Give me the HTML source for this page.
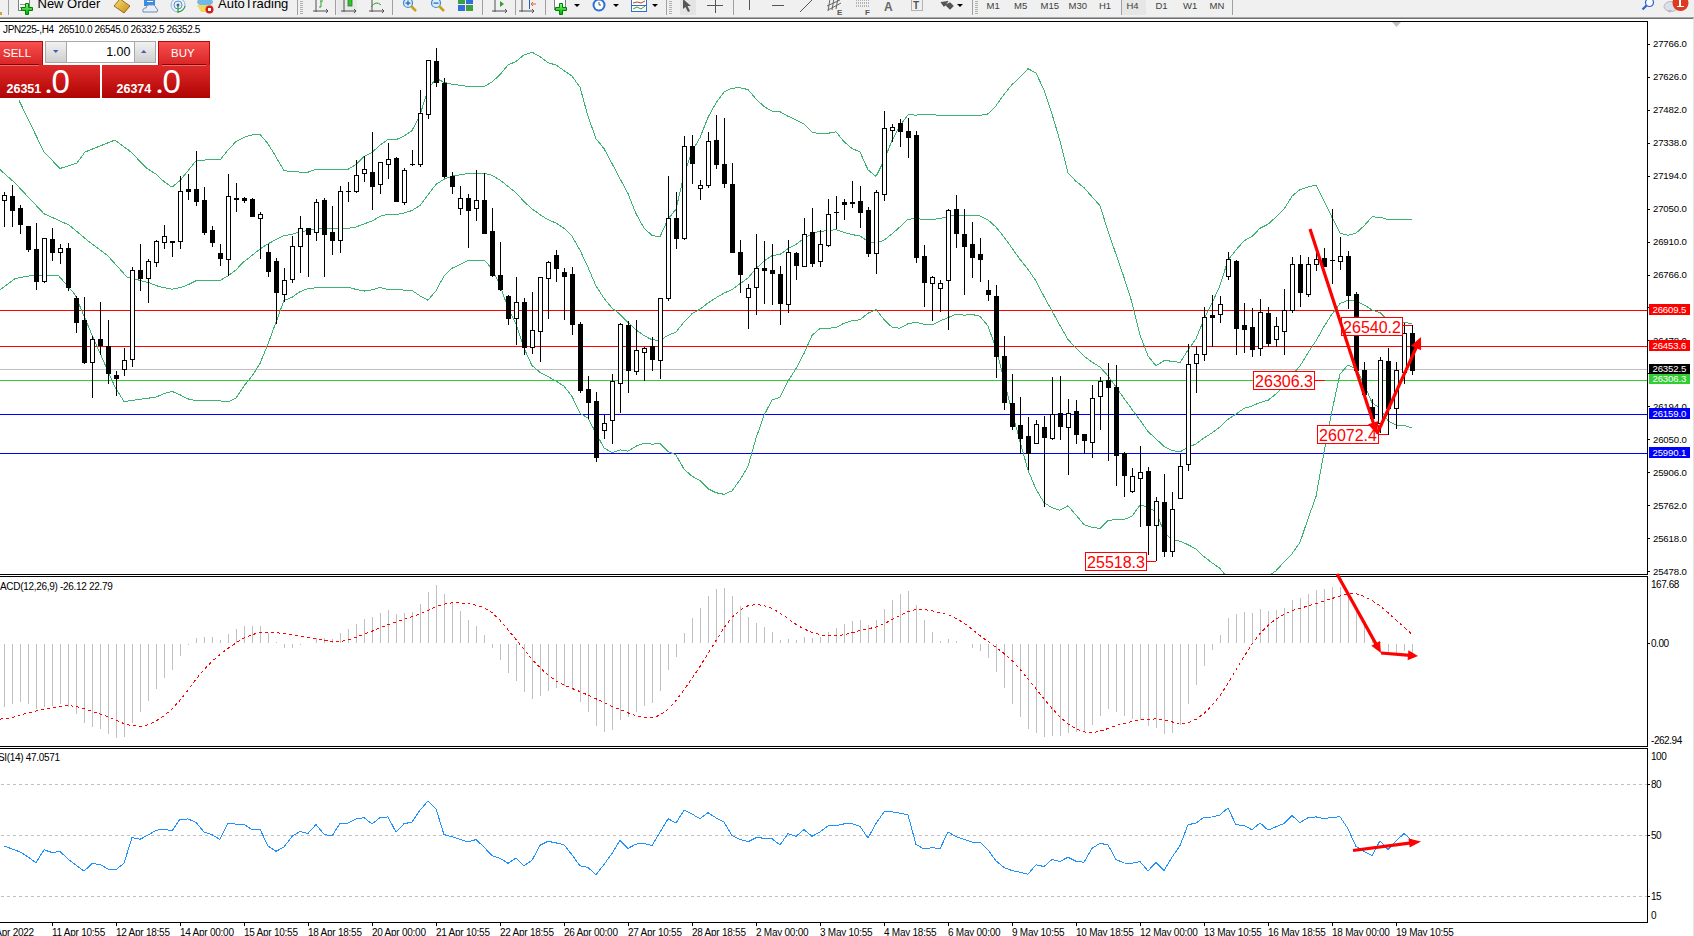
<!DOCTYPE html>
<html><head><meta charset="utf-8"><style>
html,body{margin:0;padding:0;width:1694px;height:936px;overflow:hidden;background:#fff;}
body{position:relative;font-family:"Liberation Sans",sans-serif;}
svg{position:absolute;left:0;top:0;}
svg text{font-family:"Liberation Sans",sans-serif;}
#tb{position:absolute;left:0;top:0;width:1694px;height:17px;background:#f0f0f0;overflow:hidden;}
#tb .t{position:absolute;font-size:12px;color:#000;top:-4px;white-space:nowrap;}
.panel{position:absolute;}
</style></head><body>
<svg width="1694" height="936" viewBox="0 0 1694 936">
<g shape-rendering="crispEdges">
<rect x="0" y="310" width="1647" height="1" fill="#ff0000" />
<rect x="0" y="346" width="1647" height="1" fill="#ff0000" />
<rect x="0" y="369" width="1647" height="1" fill="#c0c0c0" />
<rect x="0" y="380" width="1647" height="1" fill="#32cd32" />
<rect x="0" y="414" width="1647" height="1" fill="#0000ff" />
<rect x="0" y="453" width="1647" height="1" fill="#0000ff" />
<line x1="0" y1="784.5" x2="1647" y2="784.5" stroke="#c0c0c0" stroke-width="1" stroke-dasharray="3,3" stroke-dashoffset="5"/>
<line x1="0" y1="835.5" x2="1647" y2="835.5" stroke="#c0c0c0" stroke-width="1" stroke-dasharray="3,3" stroke-dashoffset="5"/>
<line x1="0" y1="896.5" x2="1647" y2="896.5" stroke="#c0c0c0" stroke-width="1" stroke-dasharray="3,3" stroke-dashoffset="5"/>
<rect x="0" y="21" width="1648" height="1" fill="#000" />
<rect x="1647" y="21" width="1" height="554" fill="#000" />
<rect x="0" y="574" width="1648" height="1" fill="#000" />
<rect x="0" y="576" width="1648" height="1" fill="#000" />
<rect x="1647" y="576" width="1" height="171" fill="#000" />
<rect x="0" y="746" width="1648" height="1" fill="#000" />
<rect x="0" y="748" width="1648" height="1" fill="#000" />
<rect x="1647" y="748" width="1" height="175" fill="#000" />
<rect x="0" y="922" width="1648" height="1" fill="#000" />
<rect x="1693" y="18" width="1" height="918" fill="#e4e4e4" />
<rect x="1648" y="44" width="2" height="1" fill="#000" />
<rect x="1648" y="77" width="2" height="1" fill="#000" />
<rect x="1648" y="110" width="2" height="1" fill="#000" />
<rect x="1648" y="143" width="2" height="1" fill="#000" />
<rect x="1648" y="176" width="2" height="1" fill="#000" />
<rect x="1648" y="209" width="2" height="1" fill="#000" />
<rect x="1648" y="242" width="2" height="1" fill="#000" />
<rect x="1648" y="275" width="2" height="1" fill="#000" />
<rect x="1648" y="307" width="2" height="1" fill="#000" />
<rect x="1648" y="340" width="2" height="1" fill="#000" />
<rect x="1648" y="373" width="2" height="1" fill="#000" />
<rect x="1648" y="406" width="2" height="1" fill="#000" />
<rect x="1648" y="439" width="2" height="1" fill="#000" />
<rect x="1648" y="472" width="2" height="1" fill="#000" />
<rect x="1648" y="505" width="2" height="1" fill="#000" />
<rect x="1648" y="538" width="2" height="1" fill="#000" />
<rect x="1648" y="571" width="2" height="1" fill="#000" />
<rect x="1648" y="643" width="2" height="1" fill="#000" />
<rect x="1648" y="784" width="2" height="1" fill="#000" />
<rect x="1648" y="835" width="2" height="1" fill="#000" />
<rect x="1648" y="896" width="2" height="1" fill="#000" />
<rect x="52" y="923" width="1" height="3" fill="#000" />
<rect x="116" y="923" width="1" height="3" fill="#000" />
<rect x="180" y="923" width="1" height="3" fill="#000" />
<rect x="244" y="923" width="1" height="3" fill="#000" />
<rect x="308" y="923" width="1" height="3" fill="#000" />
<rect x="372" y="923" width="1" height="3" fill="#000" />
<rect x="436" y="923" width="1" height="3" fill="#000" />
<rect x="500" y="923" width="1" height="3" fill="#000" />
<rect x="564" y="923" width="1" height="3" fill="#000" />
<rect x="628" y="923" width="1" height="3" fill="#000" />
<rect x="692" y="923" width="1" height="3" fill="#000" />
<rect x="756" y="923" width="1" height="3" fill="#000" />
<rect x="820" y="923" width="1" height="3" fill="#000" />
<rect x="884" y="923" width="1" height="3" fill="#000" />
<rect x="948" y="923" width="1" height="3" fill="#000" />
<rect x="1012" y="923" width="1" height="3" fill="#000" />
<rect x="1076" y="923" width="1" height="3" fill="#000" />
<rect x="1140" y="923" width="1" height="3" fill="#000" />
<rect x="1204" y="923" width="1" height="3" fill="#000" />
<rect x="1268" y="923" width="1" height="3" fill="#000" />
<rect x="1332" y="923" width="1" height="3" fill="#000" />
<rect x="1396" y="923" width="1" height="3" fill="#000" />
</g>
<g shape-rendering="crispEdges">
<rect x="4" y="644" width="1" height="63" fill="#c0c0c0" />
<rect x="12" y="644" width="1" height="60" fill="#c0c0c0" />
<rect x="20" y="644" width="1" height="58" fill="#c0c0c0" />
<rect x="28" y="644" width="1" height="60" fill="#c0c0c0" />
<rect x="36" y="644" width="1" height="65" fill="#c0c0c0" />
<rect x="44" y="644" width="1" height="63" fill="#c0c0c0" />
<rect x="52" y="644" width="1" height="62" fill="#c0c0c0" />
<rect x="60" y="644" width="1" height="60" fill="#c0c0c0" />
<rect x="68" y="644" width="1" height="63" fill="#c0c0c0" />
<rect x="76" y="644" width="1" height="70" fill="#c0c0c0" />
<rect x="84" y="644" width="1" height="79" fill="#c0c0c0" />
<rect x="92" y="644" width="1" height="83" fill="#c0c0c0" />
<rect x="100" y="644" width="1" height="85" fill="#c0c0c0" />
<rect x="108" y="644" width="1" height="90" fill="#c0c0c0" />
<rect x="116" y="644" width="1" height="94" fill="#c0c0c0" />
<rect x="124" y="644" width="1" height="93" fill="#c0c0c0" />
<rect x="132" y="644" width="1" height="79" fill="#c0c0c0" />
<rect x="140" y="644" width="1" height="68" fill="#c0c0c0" />
<rect x="148" y="644" width="1" height="57" fill="#c0c0c0" />
<rect x="156" y="644" width="1" height="45" fill="#c0c0c0" />
<rect x="164" y="644" width="1" height="34" fill="#c0c0c0" />
<rect x="172" y="644" width="1" height="26" fill="#c0c0c0" />
<rect x="180" y="644" width="1" height="12" fill="#c0c0c0" />
<rect x="188" y="644" width="1" height="1" fill="#c0c0c0" />
<rect x="196" y="638" width="1" height="5" fill="#c0c0c0" />
<rect x="204" y="637" width="1" height="6" fill="#c0c0c0" />
<rect x="212" y="637" width="1" height="6" fill="#c0c0c0" />
<rect x="220" y="640" width="1" height="3" fill="#c0c0c0" />
<rect x="228" y="634" width="1" height="9" fill="#c0c0c0" />
<rect x="236" y="629" width="1" height="14" fill="#c0c0c0" />
<rect x="244" y="626" width="1" height="17" fill="#c0c0c0" />
<rect x="252" y="626" width="1" height="17" fill="#c0c0c0" />
<rect x="260" y="626" width="1" height="17" fill="#c0c0c0" />
<rect x="268" y="633" width="1" height="10" fill="#c0c0c0" />
<rect x="276" y="642" width="1" height="1" fill="#c0c0c0" />
<rect x="284" y="644" width="1" height="4" fill="#c0c0c0" />
<rect x="292" y="644" width="1" height="4" fill="#c0c0c0" />
<rect x="300" y="644" width="1" height="1" fill="#c0c0c0" />
<rect x="316" y="638" width="1" height="5" fill="#c0c0c0" />
<rect x="324" y="638" width="1" height="5" fill="#c0c0c0" />
<rect x="332" y="639" width="1" height="4" fill="#c0c0c0" />
<rect x="340" y="633" width="1" height="10" fill="#c0c0c0" />
<rect x="348" y="629" width="1" height="14" fill="#c0c0c0" />
<rect x="356" y="624" width="1" height="19" fill="#c0c0c0" />
<rect x="364" y="619" width="1" height="24" fill="#c0c0c0" />
<rect x="372" y="617" width="1" height="26" fill="#c0c0c0" />
<rect x="380" y="613" width="1" height="30" fill="#c0c0c0" />
<rect x="388" y="610" width="1" height="33" fill="#c0c0c0" />
<rect x="396" y="614" width="1" height="29" fill="#c0c0c0" />
<rect x="404" y="613" width="1" height="30" fill="#c0c0c0" />
<rect x="412" y="612" width="1" height="31" fill="#c0c0c0" />
<rect x="420" y="604" width="1" height="39" fill="#c0c0c0" />
<rect x="428" y="592" width="1" height="51" fill="#c0c0c0" />
<rect x="436" y="585" width="1" height="58" fill="#c0c0c0" />
<rect x="444" y="594" width="1" height="49" fill="#c0c0c0" />
<rect x="452" y="602" width="1" height="41" fill="#c0c0c0" />
<rect x="460" y="611" width="1" height="32" fill="#c0c0c0" />
<rect x="468" y="620" width="1" height="23" fill="#c0c0c0" />
<rect x="476" y="626" width="1" height="17" fill="#c0c0c0" />
<rect x="484" y="635" width="1" height="8" fill="#c0c0c0" />
<rect x="492" y="644" width="1" height="4" fill="#c0c0c0" />
<rect x="500" y="644" width="1" height="16" fill="#c0c0c0" />
<rect x="508" y="644" width="1" height="29" fill="#c0c0c0" />
<rect x="516" y="644" width="1" height="37" fill="#c0c0c0" />
<rect x="524" y="644" width="1" height="48" fill="#c0c0c0" />
<rect x="532" y="644" width="1" height="55" fill="#c0c0c0" />
<rect x="540" y="644" width="1" height="52" fill="#c0c0c0" />
<rect x="548" y="644" width="1" height="47" fill="#c0c0c0" />
<rect x="556" y="644" width="1" height="44" fill="#c0c0c0" />
<rect x="564" y="644" width="1" height="42" fill="#c0c0c0" />
<rect x="572" y="644" width="1" height="46" fill="#c0c0c0" />
<rect x="580" y="644" width="1" height="58" fill="#c0c0c0" />
<rect x="588" y="644" width="1" height="68" fill="#c0c0c0" />
<rect x="596" y="644" width="1" height="82" fill="#c0c0c0" />
<rect x="604" y="644" width="1" height="88" fill="#c0c0c0" />
<rect x="612" y="644" width="1" height="86" fill="#c0c0c0" />
<rect x="620" y="644" width="1" height="76" fill="#c0c0c0" />
<rect x="628" y="644" width="1" height="73" fill="#c0c0c0" />
<rect x="636" y="644" width="1" height="68" fill="#c0c0c0" />
<rect x="644" y="644" width="1" height="62" fill="#c0c0c0" />
<rect x="652" y="644" width="1" height="59" fill="#c0c0c0" />
<rect x="660" y="644" width="1" height="47" fill="#c0c0c0" />
<rect x="668" y="644" width="1" height="26" fill="#c0c0c0" />
<rect x="676" y="644" width="1" height="13" fill="#c0c0c0" />
<rect x="684" y="633" width="1" height="10" fill="#c0c0c0" />
<rect x="692" y="618" width="1" height="25" fill="#c0c0c0" />
<rect x="700" y="608" width="1" height="35" fill="#c0c0c0" />
<rect x="708" y="596" width="1" height="47" fill="#c0c0c0" />
<rect x="716" y="589" width="1" height="54" fill="#c0c0c0" />
<rect x="724" y="588" width="1" height="55" fill="#c0c0c0" />
<rect x="732" y="596" width="1" height="47" fill="#c0c0c0" />
<rect x="740" y="606" width="1" height="37" fill="#c0c0c0" />
<rect x="748" y="617" width="1" height="26" fill="#c0c0c0" />
<rect x="756" y="623" width="1" height="20" fill="#c0c0c0" />
<rect x="764" y="627" width="1" height="16" fill="#c0c0c0" />
<rect x="772" y="632" width="1" height="11" fill="#c0c0c0" />
<rect x="780" y="640" width="1" height="3" fill="#c0c0c0" />
<rect x="788" y="639" width="1" height="4" fill="#c0c0c0" />
<rect x="796" y="640" width="1" height="3" fill="#c0c0c0" />
<rect x="804" y="637" width="1" height="6" fill="#c0c0c0" />
<rect x="812" y="638" width="1" height="5" fill="#c0c0c0" />
<rect x="820" y="637" width="1" height="6" fill="#c0c0c0" />
<rect x="828" y="632" width="1" height="11" fill="#c0c0c0" />
<rect x="836" y="628" width="1" height="15" fill="#c0c0c0" />
<rect x="844" y="624" width="1" height="19" fill="#c0c0c0" />
<rect x="852" y="621" width="1" height="22" fill="#c0c0c0" />
<rect x="860" y="620" width="1" height="23" fill="#c0c0c0" />
<rect x="868" y="625" width="1" height="18" fill="#c0c0c0" />
<rect x="876" y="620" width="1" height="23" fill="#c0c0c0" />
<rect x="884" y="609" width="1" height="34" fill="#c0c0c0" />
<rect x="892" y="600" width="1" height="43" fill="#c0c0c0" />
<rect x="900" y="594" width="1" height="49" fill="#c0c0c0" />
<rect x="908" y="591" width="1" height="52" fill="#c0c0c0" />
<rect x="916" y="605" width="1" height="38" fill="#c0c0c0" />
<rect x="924" y="620" width="1" height="23" fill="#c0c0c0" />
<rect x="932" y="632" width="1" height="11" fill="#c0c0c0" />
<rect x="940" y="641" width="1" height="2" fill="#c0c0c0" />
<rect x="948" y="639" width="1" height="4" fill="#c0c0c0" />
<rect x="956" y="641" width="1" height="2" fill="#c0c0c0" />
<rect x="972" y="644" width="1" height="4" fill="#c0c0c0" />
<rect x="980" y="644" width="1" height="7" fill="#c0c0c0" />
<rect x="988" y="644" width="1" height="14" fill="#c0c0c0" />
<rect x="996" y="644" width="1" height="28" fill="#c0c0c0" />
<rect x="1004" y="644" width="1" height="44" fill="#c0c0c0" />
<rect x="1012" y="644" width="1" height="60" fill="#c0c0c0" />
<rect x="1020" y="644" width="1" height="73" fill="#c0c0c0" />
<rect x="1028" y="644" width="1" height="85" fill="#c0c0c0" />
<rect x="1036" y="644" width="1" height="89" fill="#c0c0c0" />
<rect x="1044" y="644" width="1" height="93" fill="#c0c0c0" />
<rect x="1052" y="644" width="1" height="92" fill="#c0c0c0" />
<rect x="1060" y="644" width="1" height="92" fill="#c0c0c0" />
<rect x="1068" y="644" width="1" height="89" fill="#c0c0c0" />
<rect x="1076" y="644" width="1" height="88" fill="#c0c0c0" />
<rect x="1084" y="644" width="1" height="88" fill="#c0c0c0" />
<rect x="1092" y="644" width="1" height="81" fill="#c0c0c0" />
<rect x="1100" y="644" width="1" height="72" fill="#c0c0c0" />
<rect x="1108" y="644" width="1" height="65" fill="#c0c0c0" />
<rect x="1116" y="644" width="1" height="68" fill="#c0c0c0" />
<rect x="1124" y="644" width="1" height="72" fill="#c0c0c0" />
<rect x="1132" y="644" width="1" height="75" fill="#c0c0c0" />
<rect x="1140" y="644" width="1" height="76" fill="#c0c0c0" />
<rect x="1148" y="644" width="1" height="82" fill="#c0c0c0" />
<rect x="1156" y="644" width="1" height="84" fill="#c0c0c0" />
<rect x="1164" y="644" width="1" height="90" fill="#c0c0c0" />
<rect x="1172" y="644" width="1" height="89" fill="#c0c0c0" />
<rect x="1180" y="644" width="1" height="81" fill="#c0c0c0" />
<rect x="1188" y="644" width="1" height="60" fill="#c0c0c0" />
<rect x="1196" y="644" width="1" height="41" fill="#c0c0c0" />
<rect x="1204" y="644" width="1" height="22" fill="#c0c0c0" />
<rect x="1212" y="644" width="1" height="6" fill="#c0c0c0" />
<rect x="1220" y="635" width="1" height="8" fill="#c0c0c0" />
<rect x="1228" y="618" width="1" height="25" fill="#c0c0c0" />
<rect x="1236" y="614" width="1" height="29" fill="#c0c0c0" />
<rect x="1244" y="612" width="1" height="31" fill="#c0c0c0" />
<rect x="1252" y="613" width="1" height="30" fill="#c0c0c0" />
<rect x="1260" y="609" width="1" height="34" fill="#c0c0c0" />
<rect x="1268" y="611" width="1" height="32" fill="#c0c0c0" />
<rect x="1276" y="610" width="1" height="33" fill="#c0c0c0" />
<rect x="1284" y="608" width="1" height="35" fill="#c0c0c0" />
<rect x="1292" y="600" width="1" height="43" fill="#c0c0c0" />
<rect x="1300" y="598" width="1" height="45" fill="#c0c0c0" />
<rect x="1308" y="594" width="1" height="49" fill="#c0c0c0" />
<rect x="1316" y="590" width="1" height="53" fill="#c0c0c0" />
<rect x="1324" y="589" width="1" height="54" fill="#c0c0c0" />
<rect x="1332" y="587" width="1" height="56" fill="#c0c0c0" />
<rect x="1340" y="587" width="1" height="56" fill="#c0c0c0" />
<rect x="1348" y="592" width="1" height="51" fill="#c0c0c0" />
<rect x="1356" y="607" width="1" height="36" fill="#c0c0c0" />
<rect x="1364" y="622" width="1" height="21" fill="#c0c0c0" />
<rect x="1372" y="637" width="1" height="6" fill="#c0c0c0" />
<rect x="1380" y="642" width="1" height="1" fill="#c0c0c0" />
<rect x="1388" y="644" width="1" height="8" fill="#c0c0c0" />
<rect x="1396" y="644" width="1" height="10" fill="#c0c0c0" />
<rect x="1404" y="644" width="1" height="7" fill="#c0c0c0" />
<rect x="1412" y="644" width="1" height="9" fill="#c0c0c0" />
</g>
<polyline fill="none" stroke="#ff0000" stroke-width="1" stroke-dasharray="3,3" shape-rendering="crispEdges" points="0.0,719.2 11.8,717.6 23.6,714.0 35.4,711.2 47.2,708.8 59.0,707.0 68.0,705.6 76.0,706.4 84.0,708.6 92.0,711.3 100.0,714.1 108.0,716.8 116.0,720.2 124.0,723.6 132.0,725.7 140.0,726.3 148.0,724.9 156.0,721.1 164.0,715.6 172.0,709.0 180.0,700.3 188.0,690.1 196.0,679.1 204.0,669.6 212.0,661.3 220.0,654.5 228.0,648.4 236.0,643.0 244.0,638.1 252.0,634.7 260.0,632.5 268.0,632.0 276.0,632.6 284.0,633.7 292.0,634.6 300.0,635.8 308.0,637.4 316.0,638.7 324.0,640.1 332.0,641.6 340.0,641.6 348.0,640.1 356.0,637.4 364.0,634.2 372.0,631.2 380.0,627.8 388.0,624.8 396.0,622.1 404.0,619.2 412.0,616.8 420.0,614.0 428.0,610.5 436.0,606.8 444.0,604.2 452.0,602.9 460.0,603.0 468.0,603.7 476.0,605.1 484.0,607.6 492.0,612.5 500.0,620.1 508.0,629.8 516.0,639.5 524.0,649.5 532.0,659.3 540.0,667.7 548.0,675.0 556.0,680.9 564.0,685.1 572.0,688.4 580.0,691.6 588.0,695.1 596.0,698.8 604.0,702.5 612.0,706.3 620.0,709.5 628.0,712.8 636.0,715.7 644.0,717.5 652.0,717.6 660.0,715.3 668.0,709.0 676.0,700.7 684.0,689.9 692.0,678.5 700.0,666.4 708.0,653.5 716.0,640.5 724.0,627.8 732.0,617.3 740.0,610.1 748.0,605.7 756.0,604.5 764.0,605.6 772.0,608.2 780.0,613.1 788.0,618.6 796.0,624.4 804.0,628.9 812.0,632.4 820.0,634.7 828.0,635.7 836.0,635.7 844.0,634.8 852.0,632.7 860.0,630.5 868.0,628.8 876.0,627.0 884.0,623.8 892.0,619.7 900.0,615.5 908.0,611.5 916.0,609.4 924.0,609.4 932.0,610.8 940.0,612.6 948.0,614.7 956.0,618.3 964.0,623.1 972.0,629.1 980.0,635.7 988.0,641.5 996.0,647.2 1004.0,653.5 1012.0,660.5 1020.0,669.2 1028.0,679.0 1036.0,688.9 1044.0,698.9 1052.0,708.4 1060.0,717.1 1068.0,723.9 1076.0,728.8 1084.0,731.9 1092.0,732.7 1100.0,731.2 1108.0,728.5 1116.0,725.7 1124.0,723.4 1132.0,721.5 1140.0,720.0 1148.0,719.4 1156.0,718.9 1164.0,720.0 1172.0,721.9 1180.0,723.6 1188.0,722.7 1196.0,719.3 1204.0,713.4 1212.0,705.6 1220.0,695.5 1228.0,683.3 1236.0,670.0 1244.0,656.5 1252.0,644.1 1260.0,633.6 1268.0,625.3 1276.0,619.1 1284.0,614.4 1292.0,610.5 1300.0,608.3 1308.0,606.0 1316.0,603.6 1324.0,600.9 1332.0,598.5 1340.0,595.9 1348.0,593.9 1356.0,593.7 1364.0,596.2 1372.0,600.5 1380.0,605.8 1388.0,612.7 1396.0,619.9 1404.0,627.0 1412.0,634.4"/>
<polyline fill="none" stroke="#1e90ff" stroke-width="1" shape-rendering="crispEdges" points="4.0,845.9 12.0,849.0 20.0,851.9 28.0,856.9 36.0,862.7 44.0,849.8 52.0,852.5 60.0,851.4 68.0,859.1 76.0,865.1 84.0,871.2 92.0,863.5 100.0,864.5 108.0,869.0 116.0,869.7 124.0,863.2 132.0,837.5 140.0,839.3 148.0,835.1 156.0,830.4 164.0,829.1 172.0,831.0 180.0,819.2 188.0,819.0 196.0,822.3 204.0,832.0 212.0,834.8 220.0,839.4 228.0,823.2 236.0,824.1 244.0,824.3 252.0,829.6 260.0,829.2 268.0,846.1 276.0,851.3 284.0,847.0 292.0,836.4 300.0,831.4 308.0,833.4 316.0,824.5 324.0,834.3 332.0,836.0 340.0,823.2 348.0,823.2 356.0,819.1 364.0,817.6 372.0,823.9 380.0,817.7 388.0,816.9 396.0,832.2 404.0,823.7 412.0,822.1 420.0,810.2 428.0,800.9 436.0,808.7 444.0,834.6 452.0,836.8 460.0,839.4 468.0,842.1 476.0,839.5 484.0,847.1 492.0,855.6 500.0,858.2 508.0,863.3 516.0,858.0 524.0,865.7 532.0,860.3 540.0,845.3 548.0,841.3 556.0,842.9 564.0,844.7 572.0,854.9 580.0,865.8 588.0,867.5 596.0,874.7 604.0,864.5 612.0,853.4 620.0,840.4 628.0,848.4 636.0,844.1 644.0,843.5 652.0,845.6 660.0,832.3 668.0,818.7 676.0,823.0 684.0,810.2 692.0,814.0 700.0,818.8 708.0,812.7 716.0,817.8 724.0,822.1 732.0,835.5 740.0,839.3 748.0,841.7 756.0,837.8 764.0,838.1 772.0,838.7 780.0,845.0 788.0,833.6 796.0,836.3 804.0,829.6 812.0,836.3 820.0,832.0 828.0,825.9 836.0,825.6 844.0,823.9 852.0,823.7 860.0,826.3 868.0,838.1 876.0,823.4 884.0,812.0 892.0,811.8 900.0,813.1 908.0,814.9 916.0,844.5 924.0,849.0 932.0,847.6 940.0,848.8 948.0,831.9 956.0,836.8 964.0,839.4 972.0,842.0 980.0,842.3 988.0,849.9 996.0,860.8 1004.0,867.5 1012.0,870.6 1020.0,872.2 1028.0,874.2 1036.0,864.7 1044.0,866.6 1052.0,859.5 1060.0,861.5 1068.0,857.2 1076.0,861.2 1084.0,862.3 1092.0,848.3 1100.0,843.4 1108.0,844.8 1116.0,859.5 1124.0,863.0 1132.0,863.2 1140.0,861.6 1148.0,870.9 1156.0,862.3 1164.0,870.4 1172.0,857.2 1180.0,845.6 1188.0,824.7 1196.0,823.1 1204.0,817.1 1212.0,817.0 1220.0,814.9 1228.0,807.9 1236.0,824.9 1244.0,825.2 1252.0,829.9 1260.0,822.9 1268.0,830.1 1276.0,826.8 1284.0,823.5 1292.0,815.5 1300.0,822.7 1308.0,817.6 1316.0,816.9 1324.0,818.6 1332.0,817.5 1340.0,816.7 1348.0,828.7 1356.0,846.5 1364.0,851.3 1372.0,855.6 1380.0,840.8 1388.0,849.7 1396.0,841.1 1404.0,833.5 1412.0,840.6"/>
<defs><clipPath id="cm"><rect x="0" y="22" width="1647" height="552"/></clipPath><clipPath id="cmacd"><rect x="0" y="577" width="1647" height="169"/></clipPath><clipPath id="crsi"><rect x="0" y="749" width="1647" height="173"/></clipPath></defs>
<g clip-path="url(#cm)">
<polyline fill="none" stroke="#3cb371" stroke-width="1" shape-rendering="crispEdges" points="19.0,100.4 44.0,152.0 60.0,168.5 77.0,163.0 85.0,152.0 115.0,140.0 131.0,152.0 146.0,167.7 156.0,174.2 164.0,181.6 172.0,187.2 180.0,180.6 188.0,170.7 196.0,160.9 204.0,160.1 212.0,159.1 220.0,160.0 228.0,150.1 236.0,141.5 244.0,137.3 252.0,134.9 260.0,134.4 268.0,143.7 276.0,156.9 284.0,170.8 292.0,171.3 300.0,172.1 308.0,172.2 316.0,169.2 324.0,169.2 332.0,169.2 340.0,169.2 348.0,169.3 356.0,164.6 364.0,156.6 372.0,152.3 380.0,145.2 388.0,139.5 396.0,139.7 404.0,136.0 412.0,130.6 420.0,115.0 428.0,89.5 436.0,78.1 444.0,82.4 452.0,84.2 460.0,85.2 468.0,86.6 476.0,86.6 484.0,86.7 492.0,82.0 500.0,74.6 508.0,65.0 516.0,61.5 524.0,54.9 532.0,52.2 540.0,56.7 548.0,62.7 556.0,65.0 564.0,70.6 572.0,76.1 580.0,87.2 588.0,116.4 596.0,138.7 604.0,148.6 612.0,163.5 620.0,178.7 628.0,193.6 636.0,213.6 644.0,228.0 652.0,235.5 660.0,236.8 668.0,219.2 676.0,209.1 684.0,175.0 692.0,151.2 700.0,137.7 708.0,117.4 716.0,102.9 724.0,92.1 732.0,88.2 740.0,87.7 748.0,89.6 756.0,98.9 764.0,106.6 772.0,111.2 780.0,111.8 788.0,116.2 796.0,120.1 804.0,123.8 812.0,132.2 820.0,133.7 828.0,133.3 836.0,131.8 844.0,141.7 852.0,148.4 860.0,152.0 868.0,169.8 876.0,176.4 884.0,160.7 892.0,140.6 900.0,125.4 908.0,114.7 916.0,115.1 924.0,114.3 932.0,114.1 940.0,116.0 948.0,115.0 956.0,115.6 964.0,115.6 972.0,115.8 980.0,115.5 988.0,113.9 996.0,105.8 1004.0,94.4 1012.0,84.6 1020.0,77.3 1028.0,68.7 1036.0,72.9 1044.0,90.2 1052.0,114.0 1060.0,141.0 1068.0,172.9 1076.0,181.4 1084.0,187.6 1092.0,196.8 1100.0,205.6 1108.0,231.3 1116.0,254.3 1124.0,277.4 1132.0,302.6 1140.0,335.1 1148.0,355.9 1156.0,365.9 1164.0,360.6 1172.0,361.2 1180.0,362.5 1188.0,350.1 1196.0,338.8 1204.0,319.2 1212.0,303.3 1220.0,285.5 1228.0,260.0 1236.0,250.0 1244.0,240.8 1252.0,236.4 1260.0,228.3 1268.0,224.3 1276.0,216.9 1284.0,209.2 1292.0,196.2 1300.0,189.5 1308.0,187.1 1316.0,185.1 1324.0,201.0 1332.0,217.4 1340.0,233.2 1348.0,235.3 1356.0,233.2 1364.0,225.9 1372.0,216.9 1380.0,217.2 1388.0,219.5 1396.0,219.3 1404.0,219.4 1412.0,219.0"/>
<polyline fill="none" stroke="#3cb371" stroke-width="1" shape-rendering="crispEdges" points="0.0,169.6 15.0,183.0 44.0,213.8 69.0,225.0 88.0,240.8 108.0,256.0 127.0,277.0 150.0,283.0 156.0,285.6 164.0,287.7 172.0,289.3 180.0,287.7 188.0,284.8 196.0,280.8 204.0,280.5 212.0,280.0 220.0,280.4 228.0,275.9 236.0,269.8 244.0,261.6 252.0,255.5 260.0,249.0 268.0,243.8 276.0,239.6 284.0,235.6 292.0,234.3 300.0,231.8 308.0,230.5 316.0,228.5 324.0,228.4 332.0,228.3 340.0,228.3 348.0,228.3 356.0,227.0 364.0,223.9 372.0,221.1 380.0,216.3 388.0,214.4 396.0,214.5 404.0,213.1 412.0,210.5 420.0,205.4 428.0,194.9 436.0,184.4 444.0,179.2 452.0,176.2 460.0,174.8 468.0,173.6 476.0,173.5 484.0,173.4 492.0,175.2 500.0,180.1 508.0,186.4 516.0,192.7 524.0,201.6 532.0,208.8 540.0,214.6 548.0,219.7 556.0,223.1 564.0,228.3 572.0,236.3 580.0,250.2 588.0,267.3 596.0,286.0 604.0,298.3 612.0,308.0 620.0,314.3 628.0,322.4 636.0,329.9 644.0,335.6 652.0,339.8 660.0,340.3 668.0,335.3 676.0,332.1 684.0,322.1 692.0,313.7 700.0,309.1 708.0,303.0 716.0,297.8 724.0,293.2 732.0,289.5 740.0,283.7 748.0,278.0 756.0,268.6 764.0,261.0 772.0,255.6 780.0,254.5 788.0,248.6 796.0,244.3 804.0,238.6 812.0,233.8 820.0,231.1 828.0,230.9 836.0,229.6 844.0,232.5 852.0,234.6 860.0,235.9 868.0,241.5 876.0,242.9 884.0,240.2 892.0,233.9 900.0,226.8 908.0,219.2 916.0,218.7 924.0,219.3 932.0,219.5 940.0,218.5 948.0,216.4 956.0,214.8 964.0,215.4 972.0,215.1 980.0,215.9 988.0,219.9 996.0,227.1 1004.0,237.0 1012.0,248.1 1020.0,259.4 1028.0,269.4 1036.0,281.1 1044.0,296.5 1052.0,310.9 1060.0,325.6 1068.0,339.4 1076.0,348.2 1084.0,356.1 1092.0,362.1 1100.0,367.0 1108.0,375.9 1116.0,387.0 1124.0,398.4 1132.0,409.4 1140.0,420.1 1148.0,431.6 1156.0,438.9 1164.0,446.3 1172.0,450.5 1180.0,451.9 1188.0,447.4 1196.0,443.9 1204.0,437.9 1212.0,433.0 1220.0,426.9 1228.0,419.3 1236.0,414.0 1244.0,408.4 1252.0,406.0 1260.0,402.5 1268.0,400.3 1276.0,393.9 1284.0,385.6 1292.0,375.0 1300.0,366.0 1308.0,352.9 1316.0,340.8 1324.0,326.6 1332.0,314.1 1340.0,303.6 1348.0,300.2 1356.0,300.9 1364.0,304.8 1372.0,309.9 1380.0,312.7 1388.0,320.1 1396.0,322.2 1404.0,322.5 1412.0,323.5"/>
<polyline fill="none" stroke="#3cb371" stroke-width="1" shape-rendering="crispEdges" points="0.0,290.0 15.0,278.5 29.0,276.0 58.0,275.0 75.0,294.6 92.0,335.0 115.0,387.0 124.0,401.5 146.0,398.5 156.0,397.1 164.0,393.7 172.0,391.4 180.0,394.8 188.0,398.9 196.0,400.7 204.0,400.8 212.0,400.9 220.0,400.9 228.0,401.8 236.0,398.0 244.0,385.9 252.0,376.1 260.0,363.5 268.0,344.0 276.0,322.2 284.0,300.4 292.0,297.4 300.0,291.6 308.0,288.7 316.0,287.8 324.0,287.7 332.0,287.4 340.0,287.4 348.0,287.3 356.0,289.4 364.0,291.1 372.0,289.8 380.0,287.4 388.0,289.4 396.0,289.4 404.0,290.1 412.0,290.4 420.0,295.9 428.0,300.3 436.0,290.7 444.0,276.0 452.0,268.3 460.0,264.4 468.0,260.5 476.0,260.3 484.0,260.1 492.0,268.4 500.0,285.6 508.0,307.8 516.0,323.9 524.0,348.3 532.0,365.5 540.0,372.4 548.0,376.6 556.0,381.1 564.0,386.1 572.0,396.5 580.0,413.2 588.0,418.1 596.0,433.2 604.0,448.0 612.0,452.6 620.0,449.9 628.0,451.1 636.0,446.2 644.0,443.2 652.0,444.1 660.0,443.7 668.0,451.4 676.0,455.1 684.0,469.1 692.0,476.2 700.0,480.5 708.0,488.7 716.0,492.7 724.0,494.3 732.0,490.9 740.0,479.8 748.0,466.5 756.0,438.3 764.0,415.3 772.0,400.0 780.0,397.2 788.0,381.1 796.0,368.6 804.0,353.5 812.0,335.4 820.0,328.5 828.0,328.4 836.0,327.4 844.0,323.3 852.0,320.7 860.0,319.7 868.0,313.3 876.0,309.4 884.0,319.6 892.0,327.2 900.0,328.2 908.0,323.8 916.0,322.3 924.0,324.3 932.0,324.9 940.0,321.0 948.0,317.7 956.0,314.0 964.0,315.2 972.0,314.4 980.0,316.3 988.0,326.0 996.0,348.4 1004.0,379.6 1012.0,411.6 1020.0,441.6 1028.0,470.2 1036.0,489.2 1044.0,502.7 1052.0,507.7 1060.0,510.2 1068.0,505.8 1076.0,515.0 1084.0,524.6 1092.0,527.4 1100.0,528.4 1108.0,520.4 1116.0,519.7 1124.0,519.5 1132.0,516.2 1140.0,505.0 1148.0,507.2 1156.0,511.8 1164.0,532.0 1172.0,539.8 1180.0,541.2 1188.0,544.7 1196.0,549.0 1204.0,556.7 1212.0,562.8 1220.0,568.4 1228.0,578.5 1236.0,577.9 1244.0,576.0 1252.0,575.5 1260.0,576.7 1268.0,576.3 1276.0,570.8 1284.0,562.0 1292.0,553.8 1300.0,542.4 1308.0,518.7 1316.0,496.6 1324.0,452.1 1332.0,410.8 1340.0,374.0 1348.0,365.0 1356.0,368.7 1364.0,383.7 1372.0,402.9 1380.0,408.2 1388.0,420.8 1396.0,425.2 1404.0,425.5 1412.0,428.0"/>
<g shape-rendering="crispEdges">
<rect x="4" y="192" width="1" height="35" fill="#000" />
<rect x="2" y="195" width="5" height="6" fill="#000" />
<rect x="3" y="196" width="3" height="4" fill="#fff" />
<rect x="4" y="192" width="1" height="3" fill="#000" />
<rect x="12" y="185" width="1" height="42" fill="#000" />
<rect x="10" y="196" width="5" height="15" fill="#000" />
<rect x="20" y="205" width="1" height="29" fill="#000" />
<rect x="18" y="208" width="5" height="17" fill="#000" />
<rect x="28" y="226" width="1" height="26" fill="#000" />
<rect x="26" y="226" width="5" height="24" fill="#000" />
<rect x="36" y="223" width="1" height="67" fill="#000" />
<rect x="34" y="249" width="5" height="33" fill="#000" />
<rect x="44" y="238" width="1" height="45" fill="#000" />
<rect x="42" y="238" width="5" height="44" fill="#000" />
<rect x="43" y="239" width="3" height="42" fill="#fff" />
<rect x="44" y="238" width="1" height="0" fill="#000" />
<rect x="52" y="228" width="1" height="33" fill="#000" />
<rect x="50" y="239" width="5" height="14" fill="#000" />
<rect x="60" y="244" width="1" height="20" fill="#000" />
<rect x="58" y="248" width="5" height="5" fill="#000" />
<rect x="59" y="249" width="3" height="3" fill="#fff" />
<rect x="60" y="244" width="1" height="4" fill="#000" />
<rect x="68" y="243" width="1" height="48" fill="#000" />
<rect x="66" y="248" width="5" height="40" fill="#000" />
<rect x="76" y="296" width="1" height="37" fill="#000" />
<rect x="74" y="298" width="5" height="25" fill="#000" />
<rect x="84" y="297" width="1" height="67" fill="#000" />
<rect x="82" y="320" width="5" height="43" fill="#000" />
<rect x="92" y="336" width="1" height="62" fill="#000" />
<rect x="90" y="339" width="5" height="24" fill="#000" />
<rect x="91" y="340" width="3" height="22" fill="#fff" />
<rect x="92" y="336" width="1" height="3" fill="#000" />
<rect x="100" y="302" width="1" height="53" fill="#000" />
<rect x="98" y="339" width="5" height="7" fill="#000" />
<rect x="108" y="320" width="1" height="64" fill="#000" />
<rect x="106" y="346" width="5" height="28" fill="#000" />
<rect x="116" y="371" width="1" height="25" fill="#000" />
<rect x="114" y="375" width="5" height="4" fill="#000" />
<rect x="124" y="348" width="1" height="28" fill="#000" />
<rect x="122" y="360" width="5" height="10" fill="#000" />
<rect x="123" y="361" width="3" height="8" fill="#fff" />
<rect x="124" y="348" width="1" height="12" fill="#000" />
<rect x="132" y="267" width="1" height="100" fill="#000" />
<rect x="130" y="270" width="5" height="90" fill="#000" />
<rect x="131" y="271" width="3" height="88" fill="#fff" />
<rect x="132" y="267" width="1" height="3" fill="#000" />
<rect x="140" y="244" width="1" height="47" fill="#000" />
<rect x="138" y="270" width="5" height="9" fill="#000" />
<rect x="148" y="259" width="1" height="44" fill="#000" />
<rect x="146" y="261" width="5" height="18" fill="#000" />
<rect x="147" y="262" width="3" height="16" fill="#fff" />
<rect x="148" y="259" width="1" height="2" fill="#000" />
<rect x="156" y="240" width="1" height="27" fill="#000" />
<rect x="154" y="241" width="5" height="22" fill="#000" />
<rect x="155" y="242" width="3" height="20" fill="#fff" />
<rect x="156" y="240" width="1" height="1" fill="#000" />
<rect x="164" y="225" width="1" height="24" fill="#000" />
<rect x="162" y="236" width="5" height="7" fill="#000" />
<rect x="163" y="237" width="3" height="5" fill="#fff" />
<rect x="164" y="225" width="1" height="11" fill="#000" />
<rect x="172" y="241" width="1" height="16" fill="#000" />
<rect x="170" y="241" width="5" height="2" fill="#000" />
<rect x="180" y="176" width="1" height="73" fill="#000" />
<rect x="178" y="191" width="5" height="51" fill="#000" />
<rect x="179" y="192" width="3" height="49" fill="#fff" />
<rect x="180" y="176" width="1" height="15" fill="#000" />
<rect x="188" y="174" width="1" height="26" fill="#000" />
<rect x="186" y="189" width="5" height="3" fill="#000" />
<rect x="196" y="151" width="1" height="55" fill="#000" />
<rect x="194" y="189" width="5" height="13" fill="#000" />
<rect x="204" y="187" width="1" height="48" fill="#000" />
<rect x="202" y="200" width="5" height="33" fill="#000" />
<rect x="212" y="226" width="1" height="21" fill="#000" />
<rect x="210" y="230" width="5" height="13" fill="#000" />
<rect x="220" y="244" width="1" height="22" fill="#000" />
<rect x="218" y="253" width="5" height="6" fill="#000" />
<rect x="228" y="174" width="1" height="102" fill="#000" />
<rect x="226" y="196" width="5" height="64" fill="#000" />
<rect x="227" y="197" width="3" height="62" fill="#fff" />
<rect x="228" y="174" width="1" height="22" fill="#000" />
<rect x="236" y="183" width="1" height="29" fill="#000" />
<rect x="234" y="198" width="5" height="2" fill="#000" />
<rect x="244" y="197" width="1" height="6" fill="#000" />
<rect x="242" y="198" width="5" height="3" fill="#000" />
<rect x="252" y="198" width="1" height="19" fill="#000" />
<rect x="250" y="199" width="5" height="18" fill="#000" />
<rect x="260" y="212" width="1" height="47" fill="#000" />
<rect x="258" y="214" width="5" height="5" fill="#000" />
<rect x="259" y="215" width="3" height="3" fill="#fff" />
<rect x="260" y="212" width="1" height="2" fill="#000" />
<rect x="268" y="244" width="1" height="33" fill="#000" />
<rect x="266" y="252" width="5" height="20" fill="#000" />
<rect x="276" y="258" width="1" height="66" fill="#000" />
<rect x="274" y="261" width="5" height="32" fill="#000" />
<rect x="284" y="268" width="1" height="34" fill="#000" />
<rect x="282" y="280" width="5" height="15" fill="#000" />
<rect x="283" y="281" width="3" height="13" fill="#fff" />
<rect x="284" y="268" width="1" height="12" fill="#000" />
<rect x="292" y="236" width="1" height="47" fill="#000" />
<rect x="290" y="246" width="5" height="34" fill="#000" />
<rect x="291" y="247" width="3" height="32" fill="#fff" />
<rect x="292" y="236" width="1" height="10" fill="#000" />
<rect x="300" y="216" width="1" height="57" fill="#000" />
<rect x="298" y="228" width="5" height="19" fill="#000" />
<rect x="299" y="229" width="3" height="17" fill="#fff" />
<rect x="300" y="216" width="1" height="12" fill="#000" />
<rect x="308" y="228" width="1" height="49" fill="#000" />
<rect x="306" y="228" width="5" height="7" fill="#000" />
<rect x="316" y="199" width="1" height="42" fill="#000" />
<rect x="314" y="202" width="5" height="31" fill="#000" />
<rect x="315" y="203" width="3" height="29" fill="#fff" />
<rect x="316" y="199" width="1" height="3" fill="#000" />
<rect x="324" y="198" width="1" height="79" fill="#000" />
<rect x="322" y="200" width="5" height="35" fill="#000" />
<rect x="332" y="206" width="1" height="49" fill="#000" />
<rect x="330" y="232" width="5" height="9" fill="#000" />
<rect x="340" y="186" width="1" height="67" fill="#000" />
<rect x="338" y="191" width="5" height="50" fill="#000" />
<rect x="339" y="192" width="3" height="48" fill="#fff" />
<rect x="340" y="186" width="1" height="5" fill="#000" />
<rect x="348" y="182" width="1" height="20" fill="#000" />
<rect x="346" y="191" width="5" height="1" fill="#000" />
<rect x="356" y="160" width="1" height="33" fill="#000" />
<rect x="354" y="175" width="5" height="17" fill="#000" />
<rect x="355" y="176" width="3" height="15" fill="#fff" />
<rect x="356" y="160" width="1" height="15" fill="#000" />
<rect x="364" y="156" width="1" height="26" fill="#000" />
<rect x="362" y="169" width="5" height="5" fill="#000" />
<rect x="363" y="170" width="3" height="3" fill="#fff" />
<rect x="364" y="156" width="1" height="13" fill="#000" />
<rect x="372" y="132" width="1" height="78" fill="#000" />
<rect x="370" y="172" width="5" height="15" fill="#000" />
<rect x="380" y="162" width="1" height="32" fill="#000" />
<rect x="378" y="162" width="5" height="23" fill="#000" />
<rect x="379" y="163" width="3" height="21" fill="#fff" />
<rect x="380" y="162" width="1" height="0" fill="#000" />
<rect x="388" y="143" width="1" height="36" fill="#000" />
<rect x="386" y="159" width="5" height="6" fill="#000" />
<rect x="387" y="160" width="3" height="4" fill="#fff" />
<rect x="388" y="143" width="1" height="16" fill="#000" />
<rect x="396" y="157" width="1" height="45" fill="#000" />
<rect x="394" y="158" width="5" height="44" fill="#000" />
<rect x="404" y="168" width="1" height="37" fill="#000" />
<rect x="402" y="170" width="5" height="33" fill="#000" />
<rect x="403" y="171" width="3" height="31" fill="#fff" />
<rect x="404" y="168" width="1" height="2" fill="#000" />
<rect x="412" y="150" width="1" height="16" fill="#000" />
<rect x="410" y="164" width="5" height="1" fill="#000" />
<rect x="420" y="90" width="1" height="77" fill="#000" />
<rect x="418" y="113" width="5" height="52" fill="#000" />
<rect x="419" y="114" width="3" height="50" fill="#fff" />
<rect x="420" y="90" width="1" height="23" fill="#000" />
<rect x="428" y="60" width="1" height="59" fill="#000" />
<rect x="426" y="60" width="5" height="55" fill="#000" />
<rect x="427" y="61" width="3" height="53" fill="#fff" />
<rect x="428" y="60" width="1" height="0" fill="#000" />
<rect x="436" y="48" width="1" height="39" fill="#000" />
<rect x="434" y="61" width="5" height="22" fill="#000" />
<rect x="444" y="78" width="1" height="100" fill="#000" />
<rect x="442" y="83" width="5" height="94" fill="#000" />
<rect x="452" y="172" width="1" height="22" fill="#000" />
<rect x="450" y="176" width="5" height="11" fill="#000" />
<rect x="460" y="186" width="1" height="29" fill="#000" />
<rect x="458" y="198" width="5" height="11" fill="#000" />
<rect x="459" y="199" width="3" height="9" fill="#fff" />
<rect x="460" y="186" width="1" height="12" fill="#000" />
<rect x="468" y="194" width="1" height="54" fill="#000" />
<rect x="466" y="198" width="5" height="13" fill="#000" />
<rect x="476" y="170" width="1" height="51" fill="#000" />
<rect x="474" y="200" width="5" height="9" fill="#000" />
<rect x="475" y="201" width="3" height="7" fill="#fff" />
<rect x="476" y="170" width="1" height="30" fill="#000" />
<rect x="484" y="173" width="1" height="61" fill="#000" />
<rect x="482" y="200" width="5" height="34" fill="#000" />
<rect x="492" y="208" width="1" height="69" fill="#000" />
<rect x="490" y="231" width="5" height="45" fill="#000" />
<rect x="500" y="242" width="1" height="49" fill="#000" />
<rect x="498" y="275" width="5" height="15" fill="#000" />
<rect x="508" y="295" width="1" height="30" fill="#000" />
<rect x="506" y="296" width="5" height="23" fill="#000" />
<rect x="516" y="277" width="1" height="68" fill="#000" />
<rect x="514" y="302" width="5" height="17" fill="#000" />
<rect x="515" y="303" width="3" height="15" fill="#fff" />
<rect x="516" y="277" width="1" height="25" fill="#000" />
<rect x="524" y="298" width="1" height="57" fill="#000" />
<rect x="522" y="302" width="5" height="46" fill="#000" />
<rect x="532" y="292" width="1" height="62" fill="#000" />
<rect x="530" y="330" width="5" height="18" fill="#000" />
<rect x="531" y="331" width="3" height="16" fill="#fff" />
<rect x="532" y="292" width="1" height="38" fill="#000" />
<rect x="540" y="277" width="1" height="85" fill="#000" />
<rect x="538" y="277" width="5" height="55" fill="#000" />
<rect x="539" y="278" width="3" height="53" fill="#fff" />
<rect x="540" y="277" width="1" height="0" fill="#000" />
<rect x="548" y="261" width="1" height="58" fill="#000" />
<rect x="546" y="262" width="5" height="17" fill="#000" />
<rect x="547" y="263" width="3" height="15" fill="#fff" />
<rect x="548" y="261" width="1" height="1" fill="#000" />
<rect x="556" y="250" width="1" height="32" fill="#000" />
<rect x="554" y="255" width="5" height="14" fill="#000" />
<rect x="564" y="268" width="1" height="52" fill="#000" />
<rect x="562" y="272" width="5" height="5" fill="#000" />
<rect x="572" y="267" width="1" height="68" fill="#000" />
<rect x="570" y="274" width="5" height="51" fill="#000" />
<rect x="580" y="322" width="1" height="71" fill="#000" />
<rect x="578" y="324" width="5" height="67" fill="#000" />
<rect x="588" y="376" width="1" height="43" fill="#000" />
<rect x="586" y="389" width="5" height="14" fill="#000" />
<rect x="596" y="392" width="1" height="70" fill="#000" />
<rect x="594" y="401" width="5" height="57" fill="#000" />
<rect x="604" y="415" width="1" height="24" fill="#000" />
<rect x="602" y="423" width="5" height="8" fill="#000" />
<rect x="603" y="424" width="3" height="6" fill="#fff" />
<rect x="604" y="415" width="1" height="8" fill="#000" />
<rect x="612" y="374" width="1" height="70" fill="#000" />
<rect x="610" y="381" width="5" height="40" fill="#000" />
<rect x="611" y="382" width="3" height="38" fill="#fff" />
<rect x="612" y="374" width="1" height="7" fill="#000" />
<rect x="620" y="323" width="1" height="90" fill="#000" />
<rect x="618" y="324" width="5" height="60" fill="#000" />
<rect x="619" y="325" width="3" height="58" fill="#fff" />
<rect x="620" y="323" width="1" height="1" fill="#000" />
<rect x="628" y="321" width="1" height="72" fill="#000" />
<rect x="626" y="325" width="5" height="46" fill="#000" />
<rect x="636" y="320" width="1" height="55" fill="#000" />
<rect x="634" y="350" width="5" height="22" fill="#000" />
<rect x="635" y="351" width="3" height="20" fill="#fff" />
<rect x="636" y="320" width="1" height="30" fill="#000" />
<rect x="644" y="347" width="1" height="34" fill="#000" />
<rect x="642" y="348" width="5" height="5" fill="#000" />
<rect x="643" y="349" width="3" height="3" fill="#fff" />
<rect x="644" y="347" width="1" height="1" fill="#000" />
<rect x="652" y="337" width="1" height="34" fill="#000" />
<rect x="650" y="346" width="5" height="14" fill="#000" />
<rect x="660" y="298" width="1" height="81" fill="#000" />
<rect x="658" y="298" width="5" height="63" fill="#000" />
<rect x="659" y="299" width="3" height="61" fill="#fff" />
<rect x="660" y="298" width="1" height="0" fill="#000" />
<rect x="668" y="176" width="1" height="125" fill="#000" />
<rect x="666" y="218" width="5" height="81" fill="#000" />
<rect x="667" y="219" width="3" height="79" fill="#fff" />
<rect x="668" y="176" width="1" height="42" fill="#000" />
<rect x="676" y="192" width="1" height="57" fill="#000" />
<rect x="674" y="218" width="5" height="21" fill="#000" />
<rect x="684" y="136" width="1" height="104" fill="#000" />
<rect x="682" y="146" width="5" height="93" fill="#000" />
<rect x="683" y="147" width="3" height="91" fill="#fff" />
<rect x="684" y="136" width="1" height="10" fill="#000" />
<rect x="692" y="135" width="1" height="49" fill="#000" />
<rect x="690" y="146" width="5" height="18" fill="#000" />
<rect x="700" y="180" width="1" height="20" fill="#000" />
<rect x="698" y="185" width="5" height="4" fill="#000" />
<rect x="699" y="186" width="3" height="2" fill="#fff" />
<rect x="700" y="180" width="1" height="5" fill="#000" />
<rect x="708" y="132" width="1" height="56" fill="#000" />
<rect x="706" y="141" width="5" height="45" fill="#000" />
<rect x="707" y="142" width="3" height="43" fill="#fff" />
<rect x="708" y="132" width="1" height="9" fill="#000" />
<rect x="716" y="115" width="1" height="54" fill="#000" />
<rect x="714" y="140" width="5" height="25" fill="#000" />
<rect x="724" y="118" width="1" height="70" fill="#000" />
<rect x="722" y="164" width="5" height="20" fill="#000" />
<rect x="732" y="163" width="1" height="90" fill="#000" />
<rect x="730" y="184" width="5" height="69" fill="#000" />
<rect x="740" y="240" width="1" height="53" fill="#000" />
<rect x="738" y="252" width="5" height="23" fill="#000" />
<rect x="748" y="284" width="1" height="45" fill="#000" />
<rect x="746" y="288" width="5" height="10" fill="#000" />
<rect x="747" y="289" width="3" height="8" fill="#fff" />
<rect x="748" y="284" width="1" height="4" fill="#000" />
<rect x="756" y="234" width="1" height="81" fill="#000" />
<rect x="754" y="268" width="5" height="20" fill="#000" />
<rect x="755" y="269" width="3" height="18" fill="#fff" />
<rect x="756" y="234" width="1" height="34" fill="#000" />
<rect x="764" y="241" width="1" height="63" fill="#000" />
<rect x="762" y="268" width="5" height="3" fill="#000" />
<rect x="772" y="244" width="1" height="61" fill="#000" />
<rect x="770" y="270" width="5" height="4" fill="#000" />
<rect x="780" y="266" width="1" height="59" fill="#000" />
<rect x="778" y="274" width="5" height="30" fill="#000" />
<rect x="788" y="240" width="1" height="73" fill="#000" />
<rect x="786" y="252" width="5" height="53" fill="#000" />
<rect x="787" y="253" width="3" height="51" fill="#fff" />
<rect x="788" y="240" width="1" height="12" fill="#000" />
<rect x="796" y="252" width="1" height="28" fill="#000" />
<rect x="794" y="253" width="5" height="13" fill="#000" />
<rect x="804" y="218" width="1" height="49" fill="#000" />
<rect x="802" y="234" width="5" height="33" fill="#000" />
<rect x="803" y="235" width="3" height="31" fill="#fff" />
<rect x="804" y="218" width="1" height="16" fill="#000" />
<rect x="812" y="208" width="1" height="59" fill="#000" />
<rect x="810" y="232" width="5" height="32" fill="#000" />
<rect x="820" y="230" width="1" height="37" fill="#000" />
<rect x="818" y="244" width="5" height="18" fill="#000" />
<rect x="819" y="245" width="3" height="16" fill="#fff" />
<rect x="820" y="230" width="1" height="14" fill="#000" />
<rect x="828" y="199" width="1" height="48" fill="#000" />
<rect x="826" y="214" width="5" height="32" fill="#000" />
<rect x="827" y="215" width="3" height="30" fill="#fff" />
<rect x="828" y="199" width="1" height="15" fill="#000" />
<rect x="836" y="196" width="1" height="33" fill="#000" />
<rect x="834" y="212" width="5" height="1" fill="#000" />
<rect x="844" y="199" width="1" height="21" fill="#000" />
<rect x="842" y="202" width="5" height="3" fill="#000" />
<rect x="852" y="181" width="1" height="27" fill="#000" />
<rect x="850" y="202" width="5" height="2" fill="#000" />
<rect x="860" y="186" width="1" height="42" fill="#000" />
<rect x="858" y="201" width="5" height="12" fill="#000" />
<rect x="868" y="207" width="1" height="50" fill="#000" />
<rect x="866" y="210" width="5" height="44" fill="#000" />
<rect x="876" y="190" width="1" height="84" fill="#000" />
<rect x="874" y="192" width="5" height="62" fill="#000" />
<rect x="875" y="193" width="3" height="60" fill="#fff" />
<rect x="876" y="190" width="1" height="2" fill="#000" />
<rect x="884" y="111" width="1" height="90" fill="#000" />
<rect x="882" y="128" width="5" height="67" fill="#000" />
<rect x="883" y="129" width="3" height="65" fill="#fff" />
<rect x="884" y="111" width="1" height="17" fill="#000" />
<rect x="892" y="124" width="1" height="18" fill="#000" />
<rect x="890" y="127" width="5" height="4" fill="#000" />
<rect x="891" y="128" width="3" height="2" fill="#fff" />
<rect x="892" y="124" width="1" height="3" fill="#000" />
<rect x="900" y="119" width="1" height="28" fill="#000" />
<rect x="898" y="123" width="5" height="9" fill="#000" />
<rect x="908" y="118" width="1" height="40" fill="#000" />
<rect x="906" y="131" width="5" height="7" fill="#000" />
<rect x="916" y="131" width="1" height="132" fill="#000" />
<rect x="914" y="135" width="5" height="123" fill="#000" />
<rect x="924" y="245" width="1" height="62" fill="#000" />
<rect x="922" y="256" width="5" height="27" fill="#000" />
<rect x="932" y="276" width="1" height="45" fill="#000" />
<rect x="930" y="277" width="5" height="7" fill="#000" />
<rect x="931" y="278" width="3" height="5" fill="#fff" />
<rect x="932" y="276" width="1" height="1" fill="#000" />
<rect x="940" y="280" width="1" height="32" fill="#000" />
<rect x="938" y="283" width="5" height="6" fill="#000" />
<rect x="939" y="284" width="3" height="4" fill="#fff" />
<rect x="940" y="280" width="1" height="3" fill="#000" />
<rect x="948" y="209" width="1" height="121" fill="#000" />
<rect x="946" y="210" width="5" height="71" fill="#000" />
<rect x="947" y="211" width="3" height="69" fill="#fff" />
<rect x="948" y="209" width="1" height="1" fill="#000" />
<rect x="956" y="195" width="1" height="53" fill="#000" />
<rect x="954" y="209" width="5" height="25" fill="#000" />
<rect x="964" y="209" width="1" height="86" fill="#000" />
<rect x="962" y="234" width="5" height="13" fill="#000" />
<rect x="972" y="222" width="1" height="56" fill="#000" />
<rect x="970" y="244" width="5" height="14" fill="#000" />
<rect x="980" y="238" width="1" height="44" fill="#000" />
<rect x="978" y="254" width="5" height="6" fill="#000" />
<rect x="988" y="280" width="1" height="21" fill="#000" />
<rect x="986" y="290" width="5" height="5" fill="#000" />
<rect x="996" y="285" width="1" height="93" fill="#000" />
<rect x="994" y="296" width="5" height="61" fill="#000" />
<rect x="1004" y="336" width="1" height="74" fill="#000" />
<rect x="1002" y="356" width="5" height="47" fill="#000" />
<rect x="1012" y="374" width="1" height="56" fill="#000" />
<rect x="1010" y="403" width="5" height="24" fill="#000" />
<rect x="1020" y="397" width="1" height="57" fill="#000" />
<rect x="1018" y="425" width="5" height="14" fill="#000" />
<rect x="1028" y="417" width="1" height="53" fill="#000" />
<rect x="1026" y="436" width="5" height="18" fill="#000" />
<rect x="1036" y="420" width="1" height="24" fill="#000" />
<rect x="1034" y="424" width="5" height="20" fill="#000" />
<rect x="1035" y="425" width="3" height="18" fill="#fff" />
<rect x="1036" y="420" width="1" height="4" fill="#000" />
<rect x="1044" y="416" width="1" height="91" fill="#000" />
<rect x="1042" y="427" width="5" height="11" fill="#000" />
<rect x="1052" y="377" width="1" height="63" fill="#000" />
<rect x="1050" y="414" width="5" height="25" fill="#000" />
<rect x="1051" y="415" width="3" height="23" fill="#fff" />
<rect x="1052" y="377" width="1" height="37" fill="#000" />
<rect x="1060" y="376" width="1" height="64" fill="#000" />
<rect x="1058" y="413" width="5" height="14" fill="#000" />
<rect x="1068" y="399" width="1" height="76" fill="#000" />
<rect x="1066" y="413" width="5" height="15" fill="#000" />
<rect x="1067" y="414" width="3" height="13" fill="#fff" />
<rect x="1068" y="399" width="1" height="14" fill="#000" />
<rect x="1076" y="400" width="1" height="44" fill="#000" />
<rect x="1074" y="411" width="5" height="24" fill="#000" />
<rect x="1084" y="434" width="1" height="20" fill="#000" />
<rect x="1082" y="434" width="5" height="7" fill="#000" />
<rect x="1092" y="385" width="1" height="73" fill="#000" />
<rect x="1090" y="398" width="5" height="45" fill="#000" />
<rect x="1091" y="399" width="3" height="43" fill="#fff" />
<rect x="1092" y="385" width="1" height="13" fill="#000" />
<rect x="1100" y="377" width="1" height="53" fill="#000" />
<rect x="1098" y="381" width="5" height="16" fill="#000" />
<rect x="1099" y="382" width="3" height="14" fill="#fff" />
<rect x="1100" y="377" width="1" height="4" fill="#000" />
<rect x="1108" y="363" width="1" height="98" fill="#000" />
<rect x="1106" y="380" width="5" height="8" fill="#000" />
<rect x="1116" y="365" width="1" height="121" fill="#000" />
<rect x="1114" y="387" width="5" height="69" fill="#000" />
<rect x="1124" y="452" width="1" height="45" fill="#000" />
<rect x="1122" y="453" width="5" height="23" fill="#000" />
<rect x="1132" y="468" width="1" height="25" fill="#000" />
<rect x="1130" y="476" width="5" height="16" fill="#000" />
<rect x="1131" y="477" width="3" height="14" fill="#fff" />
<rect x="1132" y="468" width="1" height="8" fill="#000" />
<rect x="1140" y="446" width="1" height="81" fill="#000" />
<rect x="1138" y="472" width="5" height="7" fill="#000" />
<rect x="1139" y="473" width="3" height="5" fill="#fff" />
<rect x="1140" y="446" width="1" height="26" fill="#000" />
<rect x="1148" y="467" width="1" height="88" fill="#000" />
<rect x="1146" y="471" width="5" height="55" fill="#000" />
<rect x="1156" y="497" width="1" height="64" fill="#000" />
<rect x="1154" y="501" width="5" height="25" fill="#000" />
<rect x="1155" y="502" width="3" height="23" fill="#fff" />
<rect x="1156" y="497" width="1" height="4" fill="#000" />
<rect x="1164" y="474" width="1" height="83" fill="#000" />
<rect x="1162" y="502" width="5" height="50" fill="#000" />
<rect x="1172" y="492" width="1" height="65" fill="#000" />
<rect x="1170" y="509" width="5" height="43" fill="#000" />
<rect x="1171" y="510" width="3" height="41" fill="#fff" />
<rect x="1172" y="492" width="1" height="17" fill="#000" />
<rect x="1180" y="454" width="1" height="45" fill="#000" />
<rect x="1178" y="466" width="5" height="33" fill="#000" />
<rect x="1179" y="467" width="3" height="31" fill="#fff" />
<rect x="1180" y="454" width="1" height="12" fill="#000" />
<rect x="1188" y="344" width="1" height="127" fill="#000" />
<rect x="1186" y="364" width="5" height="101" fill="#000" />
<rect x="1187" y="365" width="3" height="99" fill="#fff" />
<rect x="1188" y="344" width="1" height="20" fill="#000" />
<rect x="1196" y="346" width="1" height="47" fill="#000" />
<rect x="1194" y="354" width="5" height="10" fill="#000" />
<rect x="1195" y="355" width="3" height="8" fill="#fff" />
<rect x="1196" y="346" width="1" height="8" fill="#000" />
<rect x="1204" y="307" width="1" height="54" fill="#000" />
<rect x="1202" y="317" width="5" height="38" fill="#000" />
<rect x="1203" y="318" width="3" height="36" fill="#fff" />
<rect x="1204" y="307" width="1" height="10" fill="#000" />
<rect x="1212" y="295" width="1" height="52" fill="#000" />
<rect x="1210" y="315" width="5" height="3" fill="#000" />
<rect x="1220" y="296" width="1" height="27" fill="#000" />
<rect x="1218" y="304" width="5" height="11" fill="#000" />
<rect x="1219" y="305" width="3" height="9" fill="#fff" />
<rect x="1220" y="296" width="1" height="8" fill="#000" />
<rect x="1228" y="252" width="1" height="28" fill="#000" />
<rect x="1226" y="259" width="5" height="18" fill="#000" />
<rect x="1227" y="260" width="3" height="16" fill="#fff" />
<rect x="1228" y="252" width="1" height="7" fill="#000" />
<rect x="1236" y="260" width="1" height="95" fill="#000" />
<rect x="1234" y="261" width="5" height="68" fill="#000" />
<rect x="1244" y="303" width="1" height="50" fill="#000" />
<rect x="1242" y="325" width="5" height="5" fill="#000" />
<rect x="1252" y="308" width="1" height="49" fill="#000" />
<rect x="1250" y="327" width="5" height="23" fill="#000" />
<rect x="1260" y="299" width="1" height="57" fill="#000" />
<rect x="1258" y="312" width="5" height="37" fill="#000" />
<rect x="1259" y="313" width="3" height="35" fill="#fff" />
<rect x="1260" y="299" width="1" height="13" fill="#000" />
<rect x="1268" y="307" width="1" height="40" fill="#000" />
<rect x="1266" y="313" width="5" height="31" fill="#000" />
<rect x="1276" y="317" width="1" height="30" fill="#000" />
<rect x="1274" y="326" width="5" height="14" fill="#000" />
<rect x="1275" y="327" width="3" height="12" fill="#fff" />
<rect x="1276" y="317" width="1" height="9" fill="#000" />
<rect x="1284" y="289" width="1" height="66" fill="#000" />
<rect x="1282" y="310" width="5" height="22" fill="#000" />
<rect x="1283" y="311" width="3" height="20" fill="#fff" />
<rect x="1284" y="289" width="1" height="21" fill="#000" />
<rect x="1292" y="257" width="1" height="56" fill="#000" />
<rect x="1290" y="264" width="5" height="47" fill="#000" />
<rect x="1291" y="265" width="3" height="45" fill="#fff" />
<rect x="1292" y="257" width="1" height="7" fill="#000" />
<rect x="1300" y="255" width="1" height="52" fill="#000" />
<rect x="1298" y="264" width="5" height="29" fill="#000" />
<rect x="1308" y="257" width="1" height="40" fill="#000" />
<rect x="1306" y="264" width="5" height="31" fill="#000" />
<rect x="1307" y="265" width="3" height="29" fill="#fff" />
<rect x="1308" y="257" width="1" height="7" fill="#000" />
<rect x="1316" y="252" width="1" height="19" fill="#000" />
<rect x="1314" y="259" width="5" height="6" fill="#000" />
<rect x="1315" y="260" width="3" height="4" fill="#fff" />
<rect x="1316" y="252" width="1" height="7" fill="#000" />
<rect x="1324" y="248" width="1" height="19" fill="#000" />
<rect x="1322" y="258" width="5" height="9" fill="#000" />
<rect x="1332" y="209" width="1" height="75" fill="#000" />
<rect x="1330" y="260" width="5" height="1" fill="#000" />
<rect x="1340" y="237" width="1" height="33" fill="#000" />
<rect x="1338" y="256" width="5" height="6" fill="#000" />
<rect x="1339" y="257" width="3" height="4" fill="#fff" />
<rect x="1340" y="237" width="1" height="19" fill="#000" />
<rect x="1348" y="251" width="1" height="58" fill="#000" />
<rect x="1346" y="256" width="5" height="40" fill="#000" />
<rect x="1356" y="292" width="1" height="79" fill="#000" />
<rect x="1354" y="294" width="5" height="77" fill="#000" />
<rect x="1364" y="362" width="1" height="34" fill="#000" />
<rect x="1362" y="370" width="5" height="25" fill="#000" />
<rect x="1372" y="399" width="1" height="24" fill="#000" />
<rect x="1370" y="407" width="5" height="12" fill="#000" />
<rect x="1380" y="357" width="1" height="76" fill="#000" />
<rect x="1378" y="360" width="5" height="64" fill="#000" />
<rect x="1379" y="361" width="3" height="62" fill="#fff" />
<rect x="1380" y="357" width="1" height="3" fill="#000" />
<rect x="1388" y="348" width="1" height="87" fill="#000" />
<rect x="1386" y="361" width="5" height="48" fill="#000" />
<rect x="1396" y="362" width="1" height="67" fill="#000" />
<rect x="1394" y="370" width="5" height="39" fill="#000" />
<rect x="1395" y="371" width="3" height="37" fill="#fff" />
<rect x="1396" y="362" width="1" height="8" fill="#000" />
<rect x="1404" y="323" width="1" height="61" fill="#000" />
<rect x="1402" y="333" width="5" height="40" fill="#000" />
<rect x="1403" y="334" width="3" height="38" fill="#fff" />
<rect x="1404" y="323" width="1" height="10" fill="#000" />
<rect x="1412" y="325" width="1" height="50" fill="#000" />
<rect x="1410" y="333" width="5" height="38" fill="#000" />
</g>
</g>
<rect x="1085.5" y="552.5" width="61" height="18" fill="#fff" stroke="#ff0000" stroke-width="1" shape-rendering="crispEdges"/>
<text x="1116.0" y="568" font-size="16" fill="#ff0000" text-anchor="middle">25518.3</text>
<rect x="1147" y="561" width="9" height="1" fill="#ff0000" shape-rendering="crispEdges"/>
<rect x="1253.5" y="371.5" width="61" height="18" fill="#fff" stroke="#ff0000" stroke-width="1" shape-rendering="crispEdges"/>
<text x="1284.0" y="387" font-size="16" fill="#ff0000" text-anchor="middle">26306.3</text>
<rect x="1315" y="380" width="10" height="1" fill="#ff0000" shape-rendering="crispEdges"/>
<rect x="1341.5" y="317.5" width="61" height="18" fill="#fff" stroke="#ff0000" stroke-width="1" shape-rendering="crispEdges"/>
<text x="1372.0" y="333" font-size="16" fill="#ff0000" text-anchor="middle">26540.2</text>
<rect x="1403" y="325" width="9" height="1" fill="#ff0000" shape-rendering="crispEdges"/>
<rect x="1317.5" y="425.5" width="61" height="18" fill="#fff" stroke="#ff0000" stroke-width="1" shape-rendering="crispEdges"/>
<text x="1348.0" y="441" font-size="16" fill="#ff0000" text-anchor="middle">26072.4</text>
<rect x="1379" y="434" width="9" height="1" fill="#ff0000" shape-rendering="crispEdges"/>
<line x1="1310" y1="229" x2="1373.9" y2="424.5" stroke="#ff0000" stroke-width="3.2"/>
<polygon fill="#ff0000" points="1377,434 1368.0,424.3 1378.5,420.9"/>
<line x1="1377" y1="434" x2="1416.9" y2="346.1" stroke="#ff0000" stroke-width="3.2"/>
<polygon fill="#ff0000" points="1421,337 1421.1,350.2 1411.0,345.7"/>
<line x1="1337" y1="574" x2="1376.6" y2="645.1" stroke="#ff0000" stroke-width="3.2"/>
<polygon fill="#ff0000" points="1381,653 1371.3,645.8 1380.0,641.0"/>
<line x1="1381" y1="653" x2="1410.0" y2="655.4" stroke="#ff0000" stroke-width="3.2"/>
<polygon fill="#ff0000" points="1418,656 1407.6,660.2 1408.4,650.2"/>
<line x1="1353" y1="850.5" x2="1411.1" y2="842.8" stroke="#ff0000" stroke-width="3.2"/>
<polygon fill="#ff0000" points="1421,841.5 1409.7,847.5 1408.5,838.6"/>
<polygon points="1392,22 1401,22 1396.5,27" fill="#c0c0c0"/>
<text x="1653" y="47.4" font-size="9.6" letter-spacing="-0.15">27766.0</text>
<text x="1653" y="80.4" font-size="9.6" letter-spacing="-0.15">27626.0</text>
<text x="1653" y="113.3" font-size="9.6" letter-spacing="-0.15">27482.0</text>
<text x="1653" y="146.3" font-size="9.6" letter-spacing="-0.15">27338.0</text>
<text x="1653" y="179.2" font-size="9.6" letter-spacing="-0.15">27194.0</text>
<text x="1653" y="212.2" font-size="9.6" letter-spacing="-0.15">27050.0</text>
<text x="1653" y="245.2" font-size="9.6" letter-spacing="-0.15">26910.0</text>
<text x="1653" y="278.1" font-size="9.6" letter-spacing="-0.15">26766.0</text>
<text x="1653" y="344.0" font-size="9.6" letter-spacing="-0.15">26478.0</text>
<text x="1653" y="410.0" font-size="9.6" letter-spacing="-0.15">26194.0</text>
<text x="1653" y="442.9" font-size="9.6" letter-spacing="-0.15">26050.0</text>
<text x="1653" y="475.9" font-size="9.6" letter-spacing="-0.15">25906.0</text>
<text x="1653" y="508.8" font-size="9.6" letter-spacing="-0.15">25762.0</text>
<text x="1653" y="541.8" font-size="9.6" letter-spacing="-0.15">25618.0</text>
<text x="1653" y="574.8" font-size="9.6" letter-spacing="-0.15">25478.0</text>
<rect x="1649" y="304" width="41" height="11" fill="#ff0000" shape-rendering="crispEdges"/>
<text x="1652.5" y="313" font-size="9.6" letter-spacing="-0.15" fill="#fff">26609.5</text>
<rect x="1649" y="340" width="41" height="11" fill="#ff0000" shape-rendering="crispEdges"/>
<text x="1652.5" y="349" font-size="9.6" letter-spacing="-0.15" fill="#fff">26453.6</text>
<rect x="1649" y="364" width="41" height="10" fill="#000000" shape-rendering="crispEdges"/>
<text x="1652.5" y="372" font-size="9.6" letter-spacing="-0.15" fill="#fff">26352.5</text>
<rect x="1649" y="374" width="41" height="10" fill="#32cd32" shape-rendering="crispEdges"/>
<text x="1652.5" y="382" font-size="9.6" letter-spacing="-0.15" fill="#fff">26306.3</text>
<rect x="1649" y="408" width="41" height="11" fill="#0000ff" shape-rendering="crispEdges"/>
<text x="1652.5" y="417" font-size="9.6" letter-spacing="-0.15" fill="#fff">26159.0</text>
<rect x="1649" y="447" width="41" height="11" fill="#0000ff" shape-rendering="crispEdges"/>
<text x="1652.5" y="456" font-size="9.6" letter-spacing="-0.15" fill="#fff">25990.1</text>
<text x="1651" y="587.5" font-size="10" letter-spacing="-0.45">167.68</text>
<text x="1651" y="647" font-size="10" letter-spacing="-0.45">0.00</text>
<text x="1651" y="743.5" font-size="10" letter-spacing="-0.45">-262.94</text>
<text x="1651" y="759.5" font-size="10" letter-spacing="-0.45">100</text>
<text x="1651" y="788" font-size="10" letter-spacing="-0.45">80</text>
<text x="1651" y="839" font-size="10" letter-spacing="-0.45">50</text>
<text x="1651" y="900" font-size="10" letter-spacing="-0.45">15</text>
<text x="1651" y="919" font-size="10" letter-spacing="-0.45">0</text>
<text x="-12" y="935.8" font-size="10" letter-spacing="-0.25">8 Apr 2022</text>
<text x="52" y="935.8" font-size="10" letter-spacing="-0.25">11 Apr 10:55</text>
<text x="116" y="935.8" font-size="10" letter-spacing="-0.25">12 Apr 18:55</text>
<text x="180" y="935.8" font-size="10" letter-spacing="-0.25">14 Apr 00:00</text>
<text x="244" y="935.8" font-size="10" letter-spacing="-0.25">15 Apr 10:55</text>
<text x="308" y="935.8" font-size="10" letter-spacing="-0.25">18 Apr 18:55</text>
<text x="372" y="935.8" font-size="10" letter-spacing="-0.25">20 Apr 00:00</text>
<text x="436" y="935.8" font-size="10" letter-spacing="-0.25">21 Apr 10:55</text>
<text x="500" y="935.8" font-size="10" letter-spacing="-0.25">22 Apr 18:55</text>
<text x="564" y="935.8" font-size="10" letter-spacing="-0.25">26 Apr 00:00</text>
<text x="628" y="935.8" font-size="10" letter-spacing="-0.25">27 Apr 10:55</text>
<text x="692" y="935.8" font-size="10" letter-spacing="-0.25">28 Apr 18:55</text>
<text x="756" y="935.8" font-size="10" letter-spacing="-0.25">2 May 00:00</text>
<text x="820" y="935.8" font-size="10" letter-spacing="-0.25">3 May 10:55</text>
<text x="884" y="935.8" font-size="10" letter-spacing="-0.25">4 May 18:55</text>
<text x="948" y="935.8" font-size="10" letter-spacing="-0.25">6 May 00:00</text>
<text x="1012" y="935.8" font-size="10" letter-spacing="-0.25">9 May 10:55</text>
<text x="1076" y="935.8" font-size="10" letter-spacing="-0.25">10 May 18:55</text>
<text x="1140" y="935.8" font-size="10" letter-spacing="-0.25">12 May 00:00</text>
<text x="1204" y="935.8" font-size="10" letter-spacing="-0.25">13 May 10:55</text>
<text x="1268" y="935.8" font-size="10" letter-spacing="-0.25">16 May 18:55</text>
<text x="1332" y="935.8" font-size="10" letter-spacing="-0.25">18 May 00:00</text>
<text x="1396" y="935.8" font-size="10" letter-spacing="-0.25">19 May 10:55</text>
<text x="3" y="33" font-size="10" letter-spacing="-0.37" xml:space="preserve">JPN225-,H4  26510.0 26545.0 26332.5 26352.5</text>
<text x="0" y="589.5" font-size="10" letter-spacing="-0.3">ACD(12,26,9) -26.12 22.79</text>
<text x="-9" y="761" font-size="10" letter-spacing="-0.3">RSI(14) 47.0571</text>
</svg>
<svg width="1694" height="19" viewBox="0 0 1694 19" style="position:absolute;left:0;top:0">
<defs><linearGradient id="gplus" x1="0" y1="0" x2="0" y2="1"><stop offset="0" stop-color="#7dff7d"/><stop offset="1" stop-color="#00a800"/></linearGradient><linearGradient id="ggold" x1="0" y1="0" x2="1" y2="1"><stop offset="0" stop-color="#f7e27a"/><stop offset="1" stop-color="#c48a10"/></linearGradient></defs>
<rect x="0" y="0" width="1694" height="17" fill="#f0f0f0"/>
<rect x="0" y="17" width="1694" height="1" fill="#a9a9a9"/>
<rect x="0" y="18" width="1694" height="1" fill="#6f6f6f"/>
<g shape-rendering="crispEdges">
<rect x="8" y="0" width="1" height="15" fill="#a0a0a0"/>
<rect x="297" y="0" width="1" height="15" fill="#a0a0a0"/>
<rect x="335" y="0" width="1" height="15" fill="#a0a0a0"/>
<rect x="392" y="0" width="1" height="15" fill="#a0a0a0"/>
<rect x="482" y="0" width="1" height="15" fill="#a0a0a0"/>
<rect x="515" y="0" width="1" height="15" fill="#a0a0a0"/>
<rect x="545" y="0" width="1" height="15" fill="#a0a0a0"/>
<rect x="666" y="0" width="1" height="15" fill="#a0a0a0"/>
<rect x="733" y="0" width="1" height="15" fill="#a0a0a0"/>
<rect x="972" y="0" width="1" height="15" fill="#a0a0a0"/>
<rect x="1121" y="0" width="1" height="15" fill="#a0a0a0"/>
<rect x="1232" y="0" width="1" height="15" fill="#a0a0a0"/>
<rect x="300" y="1" width="3" height="1" fill="#b0b0b0"/>
<rect x="300" y="3" width="3" height="1" fill="#b0b0b0"/>
<rect x="300" y="5" width="3" height="1" fill="#b0b0b0"/>
<rect x="300" y="7" width="3" height="1" fill="#b0b0b0"/>
<rect x="300" y="9" width="3" height="1" fill="#b0b0b0"/>
<rect x="300" y="11" width="3" height="1" fill="#b0b0b0"/>
<rect x="300" y="13" width="3" height="1" fill="#b0b0b0"/>
<rect x="669" y="1" width="3" height="1" fill="#b0b0b0"/>
<rect x="669" y="3" width="3" height="1" fill="#b0b0b0"/>
<rect x="669" y="5" width="3" height="1" fill="#b0b0b0"/>
<rect x="669" y="7" width="3" height="1" fill="#b0b0b0"/>
<rect x="669" y="9" width="3" height="1" fill="#b0b0b0"/>
<rect x="669" y="11" width="3" height="1" fill="#b0b0b0"/>
<rect x="669" y="13" width="3" height="1" fill="#b0b0b0"/>
<rect x="975" y="1" width="3" height="1" fill="#b0b0b0"/>
<rect x="975" y="3" width="3" height="1" fill="#b0b0b0"/>
<rect x="975" y="5" width="3" height="1" fill="#b0b0b0"/>
<rect x="975" y="7" width="3" height="1" fill="#b0b0b0"/>
<rect x="975" y="9" width="3" height="1" fill="#b0b0b0"/>
<rect x="975" y="11" width="3" height="1" fill="#b0b0b0"/>
<rect x="975" y="13" width="3" height="1" fill="#b0b0b0"/>
</g>
<rect x="0" y="12" width="2" height="3" fill="#d8a040"/>
<rect x="18.5" y="-3.5" width="11" height="14" fill="#fff" stroke="#808080"/>
<rect x="20" y="4" width="6" height="1" fill="#909090"/><rect x="20" y="7" width="5" height="1" fill="#909090"/>
<path d="M25.5 3.5h3v4h4v3h-4v4h-3v-4h-4v-3h4z" fill="url(#gplus)" stroke="#008000" stroke-width="1"/>
<text x="37.5" y="8" font-size="13" fill="#000">New Order</text>
<path d="M114 6 L120 -1 L130 6 L124 13 Z" fill="url(#ggold)" stroke="#a06a10" stroke-width="1"/>
<rect x="144" y="-2" width="11" height="8" fill="#3a8de0"/><rect x="147" y="1" width="6" height="1" fill="#fff"/>
<path d="M143 12 Q142 8 146 8 Q147 4 151 5 Q155 4 156 8 Q159 9 157 12 Z" fill="#e8eef8" stroke="#7088b0" stroke-width="1"/>
<circle cx="178" cy="5" r="7" fill="none" stroke="#88b8e0" stroke-width="1"/><circle cx="178" cy="5" r="4" fill="none" stroke="#5090d8" stroke-width="1"/><circle cx="178" cy="5" r="1.5" fill="#2060c0"/>
<path d="M178 5 V13 M178 12 Q184 11 185 6" stroke="#30a030" stroke-width="1.2" fill="none"/>
<ellipse cx="205" cy="2" rx="8" ry="4" fill="#70b8e8"/><path d="M197 5 L213 5 L209 12 L201 12 Z" fill="#f0d860"/>
<circle cx="209.5" cy="9.5" r="4" fill="#d02020"/><rect x="208" y="8" width="3" height="3" fill="#fff"/>
<text x="218" y="8" font-size="13" fill="#000">AutoTrading</text>
<path d="M316 -1 V12 M313 11 H328 M326 9 L328 11 L326 13" stroke="#505050" stroke-width="1" fill="none"/>
<path d="M320 1 H323 M321 1 V7 M319 7 H321" stroke="#30a030" stroke-width="1" fill="none"/>
<rect x="337" y="0" width="20" height="15" fill="#e8e8e8"/>
<path d="M344 -1 V12 M341 11 H356 M354 9 L356 11 L354 13" stroke="#505050" stroke-width="1" fill="none"/>
<rect x="348" y="-1" width="4" height="7" fill="#30c030" stroke="#208020" stroke-width="0.8"/>
<path d="M372 -1 V12 M369 11 H384 M382 9 L384 11 L382 13" stroke="#505050" stroke-width="1" fill="none"/>
<path d="M371 7 Q376 0 381 5" stroke="#30a030" stroke-width="1" fill="none"/>
<circle cx="408" cy="3" r="4.5" fill="#d8ecfa" stroke="#3a8ad8" stroke-width="1.2"/>
<path d="M411 6 L416 11" stroke="#c8a020" stroke-width="2.5"/>
<rect x="405.5" y="2.5" width="5" height="1.2" fill="#2060b0"/>
<rect x="407.4" y="0.5" width="1.2" height="5" fill="#2060b0"/>
<circle cx="436" cy="3" r="4.5" fill="#d8ecfa" stroke="#3a8ad8" stroke-width="1.2"/>
<path d="M439 6 L444 11" stroke="#c8a020" stroke-width="2.5"/>
<rect x="433.5" y="2.5" width="5" height="1.2" fill="#2060b0"/>
<rect x="458" y="-2" width="7" height="6" fill="#3aa040"/><rect x="466" y="-2" width="7" height="6" fill="#3070d8"/><rect x="458" y="5" width="7" height="6" fill="#3070d8"/><rect x="466" y="5" width="7" height="6" fill="#3aa040"/>
<path d="M495 -1 V12 M492 11 H507 M505 9 L507 11 L505 13" stroke="#505050" stroke-width="1" fill="none"/>
<path d="M500 1 L504 4 L500 7 Z" fill="#30a030"/>
<path d="M522 -1 V12 M519 11 H534 M532 9 L534 11 L532 13" stroke="#505050" stroke-width="1" fill="none"/>
<rect x="529" y="0" width="1" height="9" fill="#2060c0"/><path d="M536 4 L532 4 M533 2 L531 4 L533 6" stroke="#e06020" stroke-width="1" fill="none"/>
<rect x="554.5" y="-3.5" width="11" height="13" fill="#fff" stroke="#808080"/>
<path d="M559.5 3.5h3v4h4v3h-4v4h-3v-4h-4v-3h4z" fill="url(#gplus)" stroke="#008000" stroke-width="1"/>
<path d="M574 4 H580 L577 7 Z" fill="#000"/>
<path d="M613 4 H619 L616 7 Z" fill="#000"/>
<path d="M652 4 H658 L655 7 Z" fill="#000"/>
<circle cx="599" cy="5" r="6.5" fill="#2a70d8"/><circle cx="599" cy="5" r="4.5" fill="#fff"/><path d="M599 2 V5 H601" stroke="#333" stroke-width="0.8" fill="none"/>
<rect x="631.5" y="-1.5" width="15" height="13" fill="#fff" stroke="#3070c8"/><path d="M633 3 L637 2 L641 3 L645 1" stroke="#c04020" fill="none"/><path d="M633 9 L637 7 L641 9 L645 6" stroke="#30a030" fill="none"/><rect x="632" y="5" width="14" height="1" fill="#3070c8"/>
<rect x="680" y="0" width="16" height="15" fill="#e4e4e4"/>
<path d="M683 -1 L683 9 L685.5 7 L688 12 L690 11 L687.5 6 L691 6 Z" fill="#555"/>
<path d="M707 5.5 H723 M715 -2 V13" stroke="#555" stroke-width="1" shape-rendering="crispEdges"/>
<rect x="749" y="-1" width="1" height="11" fill="#555"/>
<rect x="772" y="5" width="12" height="1" fill="#555"/>
<path d="M800 12 L812 0" stroke="#555" stroke-width="1"/>
<path d="M827 6 L840 0 M828 10 L841 3 M830 -1 L828 11 M834 -2 L832 10 M838 -2 L836 9" stroke="#666" stroke-width="1"/>
<text x="837" y="15" font-size="8" font-weight="bold" fill="#555">E</text>
<path d="M856 0 H869 M856 3 H869 M856 6 H869" stroke="#777" stroke-width="1" stroke-dasharray="1,1"/>
<text x="865" y="15" font-size="8" font-weight="bold" fill="#555">F</text>
<text x="884" y="11" font-size="12" font-weight="bold" fill="#666">A</text>
<rect x="911.5" y="-0.5" width="11" height="11" fill="none" stroke="#777" stroke-dasharray="1,1"/><text x="913" y="9" font-size="10" font-weight="bold" fill="#555">T</text>
<path d="M941 2 L944 6 L948 1 M946 5 L950 9 L953 6 L950 3 Z" stroke="#555" stroke-width="1.2" fill="#555"/>
<path d="M957 4 H963 L960 7 Z" fill="#000"/>
<rect x="1122" y="0" width="24" height="15" fill="#e6e6e6"/>
<text x="986.5" y="9" font-size="9.5" fill="#404040">M1</text>
<text x="1014" y="9" font-size="9.5" fill="#404040">M5</text>
<text x="1040.5" y="9" font-size="9.5" fill="#404040">M15</text>
<text x="1068.5" y="9" font-size="9.5" fill="#404040">M30</text>
<text x="1099" y="9" font-size="9.5" fill="#404040">H1</text>
<text x="1126.5" y="9" font-size="9.5" fill="#404040">H4</text>
<text x="1155.5" y="9" font-size="9.5" fill="#404040">D1</text>
<text x="1183" y="9" font-size="9.5" fill="#404040">W1</text>
<text x="1209.5" y="9" font-size="9.5" fill="#404040">MN</text>
<circle cx="1649.5" cy="2.5" r="4" fill="#fafaff" stroke="#2a62d0" stroke-width="1.2"/><path d="M1646.5 5.5 L1642.5 9.5" stroke="#2a62d0" stroke-width="2.2"/>
<ellipse cx="1671" cy="6.5" rx="7" ry="5" fill="#dcdfe8" stroke="#b8b8c0" stroke-width="1"/><path d="M1668 10 L1669 13 L1672 10 Z" fill="#b8b8c0"/>
<circle cx="1680.5" cy="3" r="8" fill="#dd3a20"/><path d="M1679 -2 H1681 V6 H1684 V7 H1677 V6 H1679 Z" fill="#fff"/>
<rect x="1693" y="18" width="1" height="1" fill="#d8d8d8"/>
</svg>

<svg width="215" height="100" viewBox="0 0 215 100" style="position:absolute;left:0;top:0">
<defs>
<linearGradient id="rt" x1="0" y1="0" x2="0" y2="1"><stop offset="0" stop-color="#f85050"/><stop offset="1" stop-color="#d82424"/></linearGradient>
<linearGradient id="rb" x1="0" y1="0" x2="0" y2="1"><stop offset="0" stop-color="#e02a2a"/><stop offset="1" stop-color="#b00404"/></linearGradient>
<linearGradient id="sp" x1="0" y1="0" x2="0" y2="1"><stop offset="0" stop-color="#f2f2f2"/><stop offset="0.5" stop-color="#e0e0e0"/><stop offset="1" stop-color="#cfcfcf"/></linearGradient>
</defs>
<g shape-rendering="crispEdges">
<rect x="0" y="41" width="43" height="24" fill="#b80808"/>
<rect x="0" y="42" width="42" height="23" fill="url(#rt)"/>
<rect x="0" y="65" width="100" height="33" fill="url(#rb)"/>
<rect x="0" y="64" width="39" height="1" fill="#8a0000"/>
<rect x="0" y="65" width="39" height="1" fill="#f06a6a"/>
<rect x="102" y="65" width="108" height="33" fill="url(#rb)"/>
<rect x="158" y="41" width="52" height="24" fill="#b80808"/>
<rect x="159" y="42" width="50" height="23" fill="url(#rt)"/>
<rect x="162" y="64" width="44" height="1" fill="#8a0000"/>
<rect x="162" y="65" width="44" height="1" fill="#f06a6a"/>
<rect x="45" y="41" width="111" height="22" fill="#a8a8a8"/>
<rect x="46" y="42" width="109" height="20" fill="#fff"/>
<rect x="46" y="42" width="20" height="20" fill="url(#sp)"/>
<rect x="66" y="42" width="1" height="20" fill="#a8a8a8"/>
<rect x="134" y="42" width="1" height="20" fill="#a8a8a8"/>
<rect x="135" y="42" width="20" height="20" fill="url(#sp)"/>
</g>
<path d="M53 50 H58.5 L55.75 53 Z" fill="#4858c0"/>
<path d="M141 53 H146.5 L143.75 50 Z" fill="#4858c0"/>
<text x="130.5" y="56.3" font-size="12.5" text-anchor="end" fill="#000">1.00</text>
<text x="3" y="57" font-size="11.5" fill="#fff">SELL</text>
<text x="171" y="57" font-size="11.5" fill="#fff">BUY</text>
<text x="6.5" y="92.7" font-size="12.5" font-weight="bold" fill="#fff">26351</text>
<text x="116.5" y="92.7" font-size="12.5" font-weight="bold" fill="#fff">26374</text>
<rect x="46.5" y="89.5" width="4" height="3.5" rx="1.5" fill="#fff"/>
<rect x="157.5" y="89.5" width="4" height="3.5" rx="1.5" fill="#fff"/>
<text x="51.5" y="93" font-size="33" fill="#fff">0</text>
<text x="162.5" y="93" font-size="33" fill="#fff">0</text>
</svg>
</body></html>
